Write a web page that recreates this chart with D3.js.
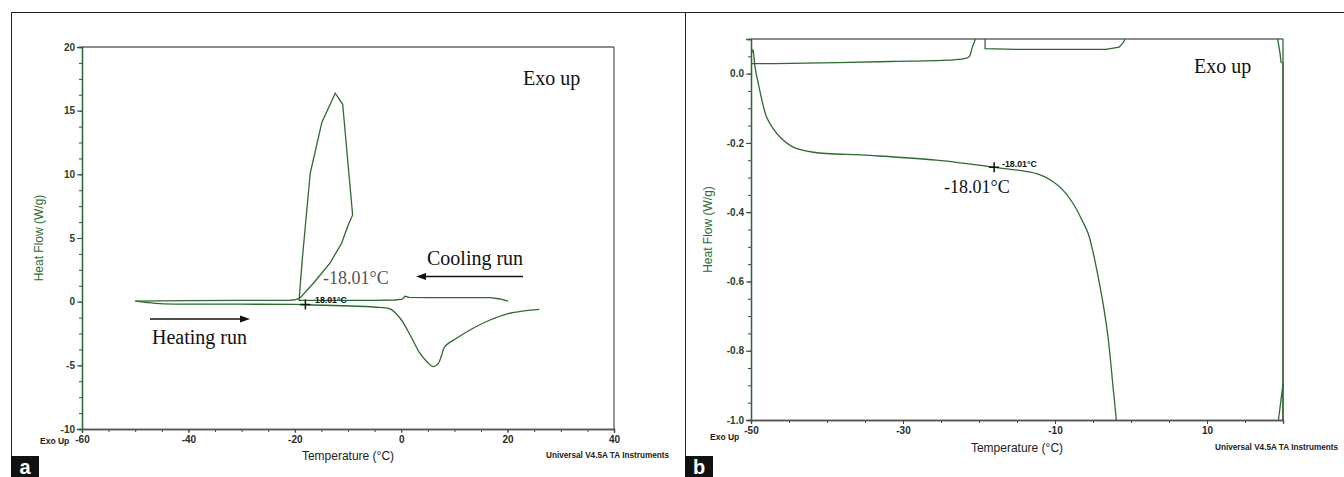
<!DOCTYPE html>
<html><head><meta charset="utf-8">
<script src="https://cdn.jsdelivr.net/npm/d3@7"></script>
<style>html,body{margin:0;padding:0;background:#fff;}svg{display:block;}</style>
</head><body><svg id="c" width="1344" height="477"></svg>
<script>
// ---------- Panel a data ----------
const aXTicksLabeled = [-60, -40, -20, 0, 20, 40];
const aYTicksLabeled = [-10, -5, 0, 5, 10, 15, 20];
const aCoolingT  = [20.1, 18.6, 16.7, 5, 1.5, 0.7, 0.2, -1.2, -5, -10, -15, -19.2, -18.6, -17.1, -14.9, -12.4, -11.0, -9.13, -9.96, -11.2, -13.4, -16.5, -19.06, -20.0, -21.0, -30, -40, -50];
const aCoolingHF = [0.05, 0.21, 0.32, 0.32, 0.33, 0.42, 0.2, 0.13, 0.1, 0.1, 0.1, 0.1, 3.3, 10.1, 14.1, 16.37, 15.5, 6.81, 6.02, 4.59, 3.02, 1.45, 0.27, 0.15, 0.1, 0.1, 0.08, 0.05];
const aHeatingT  = [-50, -48, -45.3, -40, -30, -20, -16.6, -9.6, -4, -2.1, -0.2, 1.65, 3.5, 4.8, 6.03, 7.0, 7.6, 8.2, 10.4, 13.5, 16.7, 19.8, 23.0, 25.95];
const aHeatingHF = [0.05, -0.05, -0.16, -0.2, -0.2, -0.22, -0.26, -0.34, -0.45, -0.57, -1.3, -2.6, -4.05, -4.7, -5.1, -4.84, -4.19, -3.53, -2.87, -2.09, -1.44, -0.97, -0.73, -0.60];
const aMarkerT = -18.01, aMarkerHF = -0.22;

// ---------- Panel b data ----------
const bXTicksLabeled = [-50, -30, -10, 10];
const bYTicksLabeled = [-1.0, -0.8, -0.6, -0.4, -0.2, 0.0];
const bMainT  = [-49.9, -49.75, -49.47, -49.04, -47.94, -47.07, -46.2, -44.45, -41.8, -34.4, -25.6, -18.2, -12.4, -10.2, -8.92, -7.48, -6.43, -5.64, -4.99, -4.46, -3.67, -3.02, -2.36, -1.93];
const bMainHF = [0.06, 0.069, 0.019, -0.029, -0.126, -0.159, -0.183, -0.212, -0.227, -0.236, -0.25, -0.27, -0.289, -0.313, -0.337, -0.380, -0.424, -0.461, -0.516, -0.571, -0.665, -0.761, -0.905, -1.0];
const bUpper1T  = [-50, -47, -31.8, -23.4, -21.8, -21.26, -20.9, -20.47];
const bUpper1HF = [0.029, 0.029, 0.035, 0.04, 0.044, 0.05, 0.075, 0.1];
const bUpper2T  = [-19.2, -19.2, -15.1, -3.3, -1.57, -1.0, -0.78];
const bUpper2HF = [0.1, 0.072, 0.07, 0.07, 0.0765, 0.09, 0.1];
const bRight1T  = [19.3, 19.6, 19.74, 20, 20];
const bRight1HF = [0.1, 0.06, 0.033, 0.03, -1.0];
const bRight2T  = [19.4, 20];
const bRight2HF = [-1.0, -0.896];
const bMarkerT = -18.01, bMarkerHF = -0.27;

const CURVE = "#2e6930", GREEN = "#2f6b2f", SANS = "Liberation Sans, Arial, sans-serif", SERIF = "Liberation Serif, Times New Roman, serif";
const svg = d3.select("#c");
const zip = (xs, ys) => xs.map((x, i) => [x, ys[i]]);

// outer frames
svg.append("line").attr("x1", 11).attr("x2", 1344).attr("y1", 12.5).attr("y2", 12.5).attr("stroke", "#222");
svg.append("line").attr("x1", 11.5).attr("x2", 11.5).attr("y1", 12).attr("y2", 477).attr("stroke", "#222");
svg.append("line").attr("x1", 685.5).attr("x2", 685.5).attr("y1", 12).attr("y2", 477).attr("stroke", "#222");

function panel(cfg) {
  const x = d3.scaleLinear().domain(cfg.xDomain).range([cfg.left, cfg.right]);
  const y = d3.scaleLinear().domain(cfg.yDomain).range([cfg.bottom, cfg.top]);
  const g = svg.append("g");
  const clipId = "clip" + cfg.id;
  g.append("clipPath").attr("id", clipId).append("rect")
    .attr("x", cfg.left).attr("y", cfg.top).attr("width", cfg.right - cfg.left + 1).attr("height", cfg.bottom - cfg.top);
  g.append("line").attr("x1", cfg.left).attr("x2", cfg.right).attr("y1", cfg.top).attr("y2", cfg.top).attr("stroke", "#666").attr("stroke-width", 1.3);
  g.append("line").attr("x1", cfg.right).attr("x2", cfg.right).attr("y1", cfg.top).attr("y2", cfg.bottom).attr("stroke", cfg.rightColor).attr("stroke-width", 1.3);
  const xMinor = g.append("g").attr("transform", `translate(0,${cfg.bottom})`)
    .call(d3.axisBottom(x).tickValues(cfg.xMinor).tickSize(3).tickFormat(""));
  const xMajor = g.append("g").attr("transform", `translate(0,${cfg.bottom})`)
    .call(d3.axisBottom(x).tickValues(cfg.xLabeled).tickSize(4).tickPadding(3).tickFormat(cfg.xFmt));
  const yMinor = g.append("g").attr("transform", `translate(${cfg.left},0)`)
    .call(d3.axisLeft(y).tickValues(cfg.yMinor).tickSize(3).tickFormat(""));
  const yMajor = g.append("g").attr("transform", `translate(${cfg.left},0)`)
    .call(d3.axisLeft(y).tickValues(cfg.yLabeled).tickSize(5).tickPadding(2).tickFormat(cfg.yFmt));
  [xMinor, xMajor].forEach(a => { a.select(".domain").attr("stroke", "#555").attr("stroke-width", 1.3); a.selectAll(".tick line").attr("stroke", "#444"); });
  [yMinor, yMajor].forEach(a => { a.select(".domain").attr("stroke", GREEN).attr("stroke-width", 1.3); a.selectAll(".tick line").attr("stroke", "#444"); });
  xMajor.selectAll("text").attr("font-family", SANS).attr("font-weight", "bold").attr("font-size", cfg.tickFont).attr("fill", "#2a2a2a");
  yMajor.selectAll("text").attr("font-family", SANS).attr("font-weight", "bold").attr("font-size", cfg.tickFont).attr("fill", "#264326");
  const cg = g.append("g").attr("clip-path", `url(#${clipId})`);
  cfg.curves.forEach(c => {
    const line = d3.line().x(d => x(d[0])).y(d => y(d[1])).curve(c.curve || d3.curveLinear);
    cg.append("path").attr("d", line(c.data)).attr("fill", "none").attr("stroke", CURVE).attr("stroke-width", 1.3);
  });
  const mx = x(cfg.marker[0]), my = y(cfg.marker[1]);
  g.append("path").attr("d", `M${mx - 5},${my}H${mx + 5}M${mx},${my - 5}V${my + 5}`).attr("stroke", "#111").attr("stroke-width", 1.5);
  g.append("text").attr("x", (cfg.left + cfg.right) / 2).attr("y", cfg.xTitleY).attr("text-anchor", "middle")
    .attr("font-family", SANS).attr("font-size", 12).attr("fill", "#222").text("Temperature (°C)");
  g.append("text").attr("transform", `translate(${cfg.yTitleX},${(cfg.top + cfg.bottom) / 2}) rotate(-90)`).attr("text-anchor", "middle")
    .attr("font-family", SANS).attr("font-size", 12).attr("fill", GREEN).text("Heat Flow (W/g)");
  g.append("text").attr("x", cfg.exoUpX).attr("y", cfg.exoUpY).attr("font-family", SANS).attr("font-weight", "bold")
    .attr("font-size", 8.5).attr("fill", "#222").text("Exo Up");
  g.append("text").attr("x", cfg.univX).attr("y", cfg.univY).attr("font-family", SANS).attr("font-weight", "bold")
    .attr("font-size", 8.2).attr("fill", "#222").text("Universal V4.5A TA Instruments");
  g.append("rect").attr("x", cfg.letterX).attr("y", 456).attr("width", 28).attr("height", 21).attr("fill", "#111");
  g.append("text").attr("x", cfg.letterX + 14).attr("y", 474).attr("text-anchor", "middle").attr("font-family", SANS)
    .attr("font-weight", "bold").attr("font-size", 20).attr("fill", "#fff").text(cfg.id);
  return {x, y, g};
}

function arrow(x1, x2, yy) {
  const dir = x2 > x1 ? 1 : -1;
  svg.append("line").attr("x1", x1).attr("x2", x2 - dir * 8).attr("y1", yy).attr("y2", yy).attr("stroke", "#111").attr("stroke-width", 1.6);
  svg.append("path").attr("d", `M${x2},${yy}L${x2 - dir * 10},${yy - 3.5}L${x2 - dir * 10},${yy + 3.5}Z`).attr("fill", "#111");
}

const intFmt = d => String(d);
const oneFmt = d => d.toFixed(1);

// ---------- Panel a ----------
panel({
  id: "a", left: 82, right: 614, top: 47, bottom: 429,
  xDomain: [-60, 40], yDomain: [-10, 20],
  xLabeled: aXTicksLabeled, yLabeled: aYTicksLabeled,
  xMinor: d3.range(-60, 40.01, 5), yMinor: d3.range(-10, 20.01, 1.25),
  xFmt: intFmt, yFmt: intFmt, tickFont: 10,
  rightColor: "#4f6a4f",
  curves: [
    {data: zip(aCoolingT, aCoolingHF)},
    {data: zip(aHeatingT, aHeatingHF), curve: d3.curveCatmullRom.alpha(0.5)}
  ],
  marker: [aMarkerT, aMarkerHF],
  xTitleY: 460, yTitleX: 43, exoUpX: 40, exoUpY: 444, univX: 546, univY: 458, letterX: 11
});
svg.append("text").attr("x", 523).attr("y", 85).attr("font-family", SERIF).attr("font-size", 20).attr("fill", "#111").text("Exo up");
svg.append("text").attr("x", 427).attr("y", 265).attr("font-family", SERIF).attr("font-size", 20).attr("fill", "#111").text("Cooling run");
arrow(523, 416, 276.5);
svg.append("text").attr("x", 323).attr("y", 284).attr("font-family", SERIF).attr("font-size", 18).attr("fill", "#555").text("-18.01°C");
svg.append("text").attr("x", 152).attr("y", 344).attr("font-family", SERIF).attr("font-size", 20).attr("fill", "#111").text("Heating run");
arrow(150, 250, 319);
svg.append("text").attr("x", 315).attr("y", 303).attr("font-family", SANS).attr("font-weight", "bold").attr("font-size", 8.8).attr("fill", "#111").text("18.01°C");

// ---------- Panel b ----------
panel({
  id: "b", left: 751, right: 1283, top: 39, bottom: 420,
  xDomain: [-50, 20], yDomain: [-1.0, 0.1],
  xLabeled: bXTicksLabeled, yLabeled: bYTicksLabeled,
  xMinor: d3.range(-50, 20.01, 5), yMinor: d3.range(-1.0, 0.0501, 0.05),
  xFmt: intFmt, yFmt: oneFmt, tickFont: 10,
  rightColor: CURVE,
  curves: [
    {data: zip(bMainT, bMainHF), curve: d3.curveCatmullRom.alpha(0.5)},
    {data: zip(bUpper1T, bUpper1HF), curve: d3.curveCatmullRom.alpha(0.5)},
    {data: zip(bUpper2T, bUpper2HF)},
    {data: zip(bRight1T, bRight1HF)},
    {data: zip(bRight2T, bRight2HF)}
  ],
  marker: [bMarkerT, bMarkerHF],
  xTitleY: 452, yTitleX: 712, exoUpX: 710, exoUpY: 440, univX: 1215, univY: 450, letterX: 685
});
svg.append("text").attr("x", 1194).attr("y", 73).attr("font-family", SERIF).attr("font-size", 20).attr("fill", "#111").text("Exo up");
svg.append("text").attr("x", 944).attr("y", 193).attr("font-family", SERIF).attr("font-size", 18).attr("fill", "#111").text("-18.01°C");
svg.append("text").attr("x", 1002).attr("y", 167).attr("font-family", SANS).attr("font-weight", "bold").attr("font-size", 8.8).attr("fill", "#111").text("-18.01°C");
</script></body></html>
